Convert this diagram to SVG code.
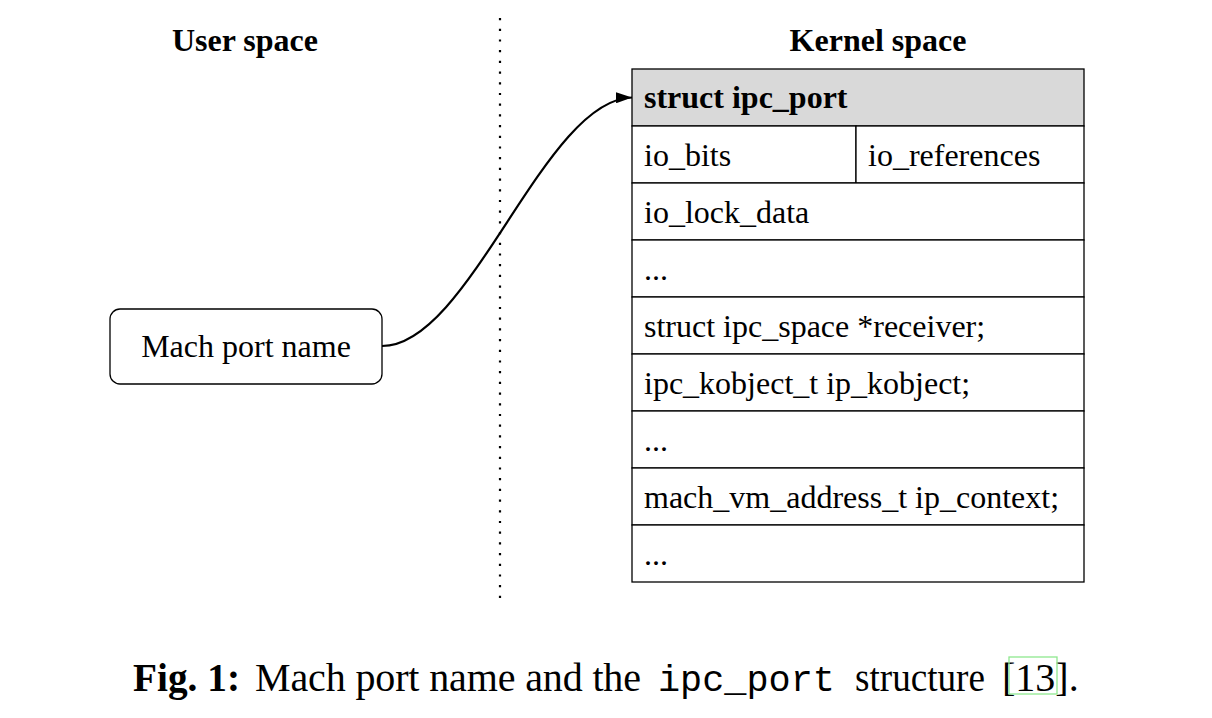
<svg xmlns="http://www.w3.org/2000/svg" width="1212" height="718" viewBox="0 0 1212 718">
<style>
  .t { font-family: "Liberation Serif", "Times New Roman", serif; font-size: 32px; fill: #000; }
  .b { font-weight: bold; }
  .cell { fill: #fff; stroke: #000; stroke-width: 1.3; }
  .hdr { fill: #d9d9d9; stroke: #000; stroke-width: 1.3; }
  .cap { font-family: "Liberation Serif", "Times New Roman", serif; font-size: 40px; fill: #000; }
  .mono { font-family: "Liberation Mono", "Courier New", monospace; font-size: 37px; fill: #000; }
</style>
<defs>
  <marker id="arr" markerWidth="16" markerHeight="11" refX="16" refY="5.5" orient="auto" markerUnits="userSpaceOnUse">
    <path d="M0,0 L16,5.5 L0,11 Z" fill="#000"/>
  </marker>
</defs>
<rect width="1212" height="718" fill="#fff"/>

<g id="labels">
  <text class="t b" x="245" y="51" text-anchor="middle">User space</text>
  <text class="t b" x="878" y="51" text-anchor="middle">Kernel space</text>
</g>

<g id="divider">
  <line x1="500" y1="18" x2="500" y2="605" stroke="#000" stroke-width="2.2" stroke-dasharray="2.2 8.5"/>
</g>

<g id="mach-port-name">
  <rect x="110" y="309" width="272" height="75" rx="10" ry="10" class="cell"/>
  <text class="t" x="246" y="357" text-anchor="middle">Mach port name</text>
</g>

<g id="ipc_port">
  <rect class="hdr" x="632" y="69" width="452" height="57"/>
  <text class="t b" x="644" y="108">struct ipc_port</text>
  <rect class="cell" x="632" y="126" width="224" height="57"/>
  <rect class="cell" x="856" y="126" width="228" height="57"/>
  <text class="t" x="644" y="166">io_bits</text>
  <text class="t" x="868" y="166">io_references</text>
  <rect class="cell" x="632" y="183" width="452" height="57"/>
  <text class="t" x="644" y="223">io_lock_data</text>
  <rect class="cell" x="632" y="240" width="452" height="57"/>
  <text class="t" x="644" y="280">...</text>
  <rect class="cell" x="632" y="297" width="452" height="57"/>
  <text class="t" x="644" y="337">struct ipc_space *receiver;</text>
  <rect class="cell" x="632" y="354" width="452" height="57"/>
  <text class="t" x="644" y="394">ipc_kobject_t ip_kobject;</text>
  <rect class="cell" x="632" y="411" width="452" height="57"/>
  <text class="t" x="644" y="451">...</text>
  <rect class="cell" x="632" y="468" width="452" height="57"/>
  <text class="t" x="644" y="508">mach_vm_address_t ip_context;</text>
  <rect class="cell" x="632" y="525" width="452" height="57"/>
  <text class="t" x="644" y="565">...</text>
</g>

<g id="connectors">
  <path d="M382,346 C470,346 544,99 632,97.5" fill="none" stroke="#000" stroke-width="2.2" marker-end="url(#arr)"/>
</g>

<g id="caption">
  <text class="cap b" x="133" y="691" textLength="107" lengthAdjust="spacingAndGlyphs">Fig. 1:</text>
  <text class="cap" x="255" y="691" textLength="386" lengthAdjust="spacing">Mach port name and the</text>
  <text class="mono" x="658" y="691" textLength="177" lengthAdjust="spacingAndGlyphs">ipc_port</text>
  <text class="cap" x="855" y="691" textLength="130" lengthAdjust="spacingAndGlyphs">structure</text>
  <text class="cap" x="1002" y="691">[13].</text>
  <rect x="1009" y="657" width="48" height="37" fill="none" stroke="#8fe88f" stroke-width="1.3"/>
</g>
</svg>
